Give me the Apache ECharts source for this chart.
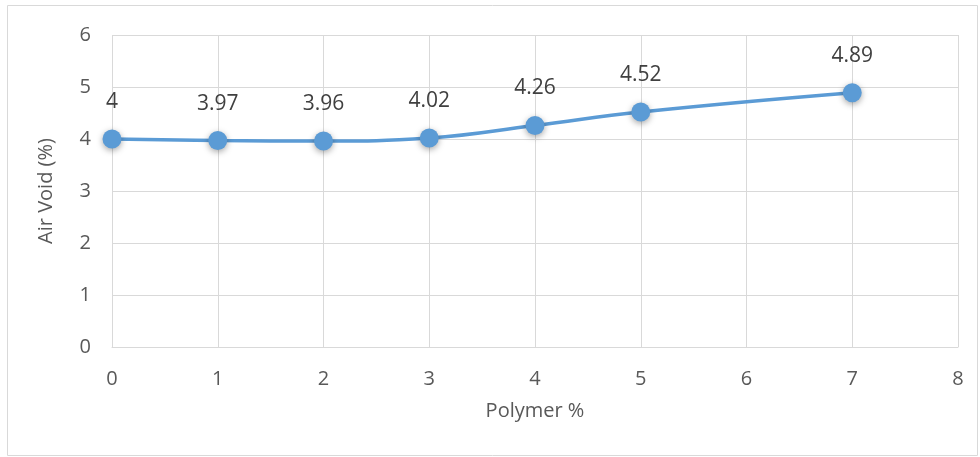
<!DOCTYPE html>
<html>
<head>
<meta charset="utf-8">
<script src="https://cdn.jsdelivr.net/npm/echarts@6/dist/echarts.min.js"></script>
<style>
	html, body { margin: 0; padding: 0; background: #fff; }
	#chart { width: 980px; height: 457px; }
</style>
</head>
<body>
<div id="chart"></div>
<script>
// polymer content (%) and measured air voids
const polymerPct = [0, 1, 2, 3, 4, 5, 7]
const airVoid = [4, 3.97, 3.96, 4.02, 4.26, 4.52, 4.89]

const myChart = echarts.init(document.getElementById("chart"))
const option = {
	animation: false,
	textStyle: { fontFamily: "Open Sans, DejaVu Sans, sans-serif" },
	graphic: [
		{
			type: "rect",
			shape: { x: 7.5, y: 5.5, width: 970, height: 450 },
			style: { fill: "none", stroke: "#d9d9d9", lineWidth: 1 },
		},
	],
	grid: { left: 112, right: 22, top: 35, bottom: 110 },
	xAxis: {
		type: "value",
		min: 0,
		max: 8,
		interval: 1,
		name: "Polymer %",
		nameLocation: "middle",
		nameGap: 54,
		nameTextStyle: { color: "#595959", fontSize: 20 },
		axisLine: { show: true, lineStyle: { color: "#d9d9d9" } },
		axisTick: { show: false },
		axisLabel: { color: "#595959", fontSize: 20, margin: 22 },
		splitLine: { show: true, lineStyle: { color: "#d9d9d9", width: 1 } },
	},
	yAxis: {
		type: "value",
		min: 0,
		max: 6,
		interval: 1,
		name: "Air Void (%)",
		nameLocation: "middle",
		nameGap: 56,
		nameTextStyle: { color: "#595959", fontSize: 20 },
		axisLine: { show: false },
		axisTick: { show: false },
		axisLabel: { color: "#595959", fontSize: 20, margin: 21 },
		splitLine: { lineStyle: { color: "#d9d9d9", width: 1 } },
	},
	series: [
		{
			type: "line",
			data: polymerPct.map((x, i) => [x, airVoid[i]]),
			smooth: 0.45,
			symbol: "circle",
			symbolSize: 19,
			lineStyle: { color: "#5b9bd5", width: 3.5 },
			itemStyle: {
				color: "#5b9bd5",
				shadowBlur: 6,
				shadowColor: "rgba(0,0,0,0.35)",
				shadowOffsetY: 2,
			},
			label: {
				show: true,
				position: "top",
				distance: 17,
				color: "#404040",
				fontSize: 21,
			},
		},
	],
}
myChart.setOption(option)
</script>
</body>
</html>
